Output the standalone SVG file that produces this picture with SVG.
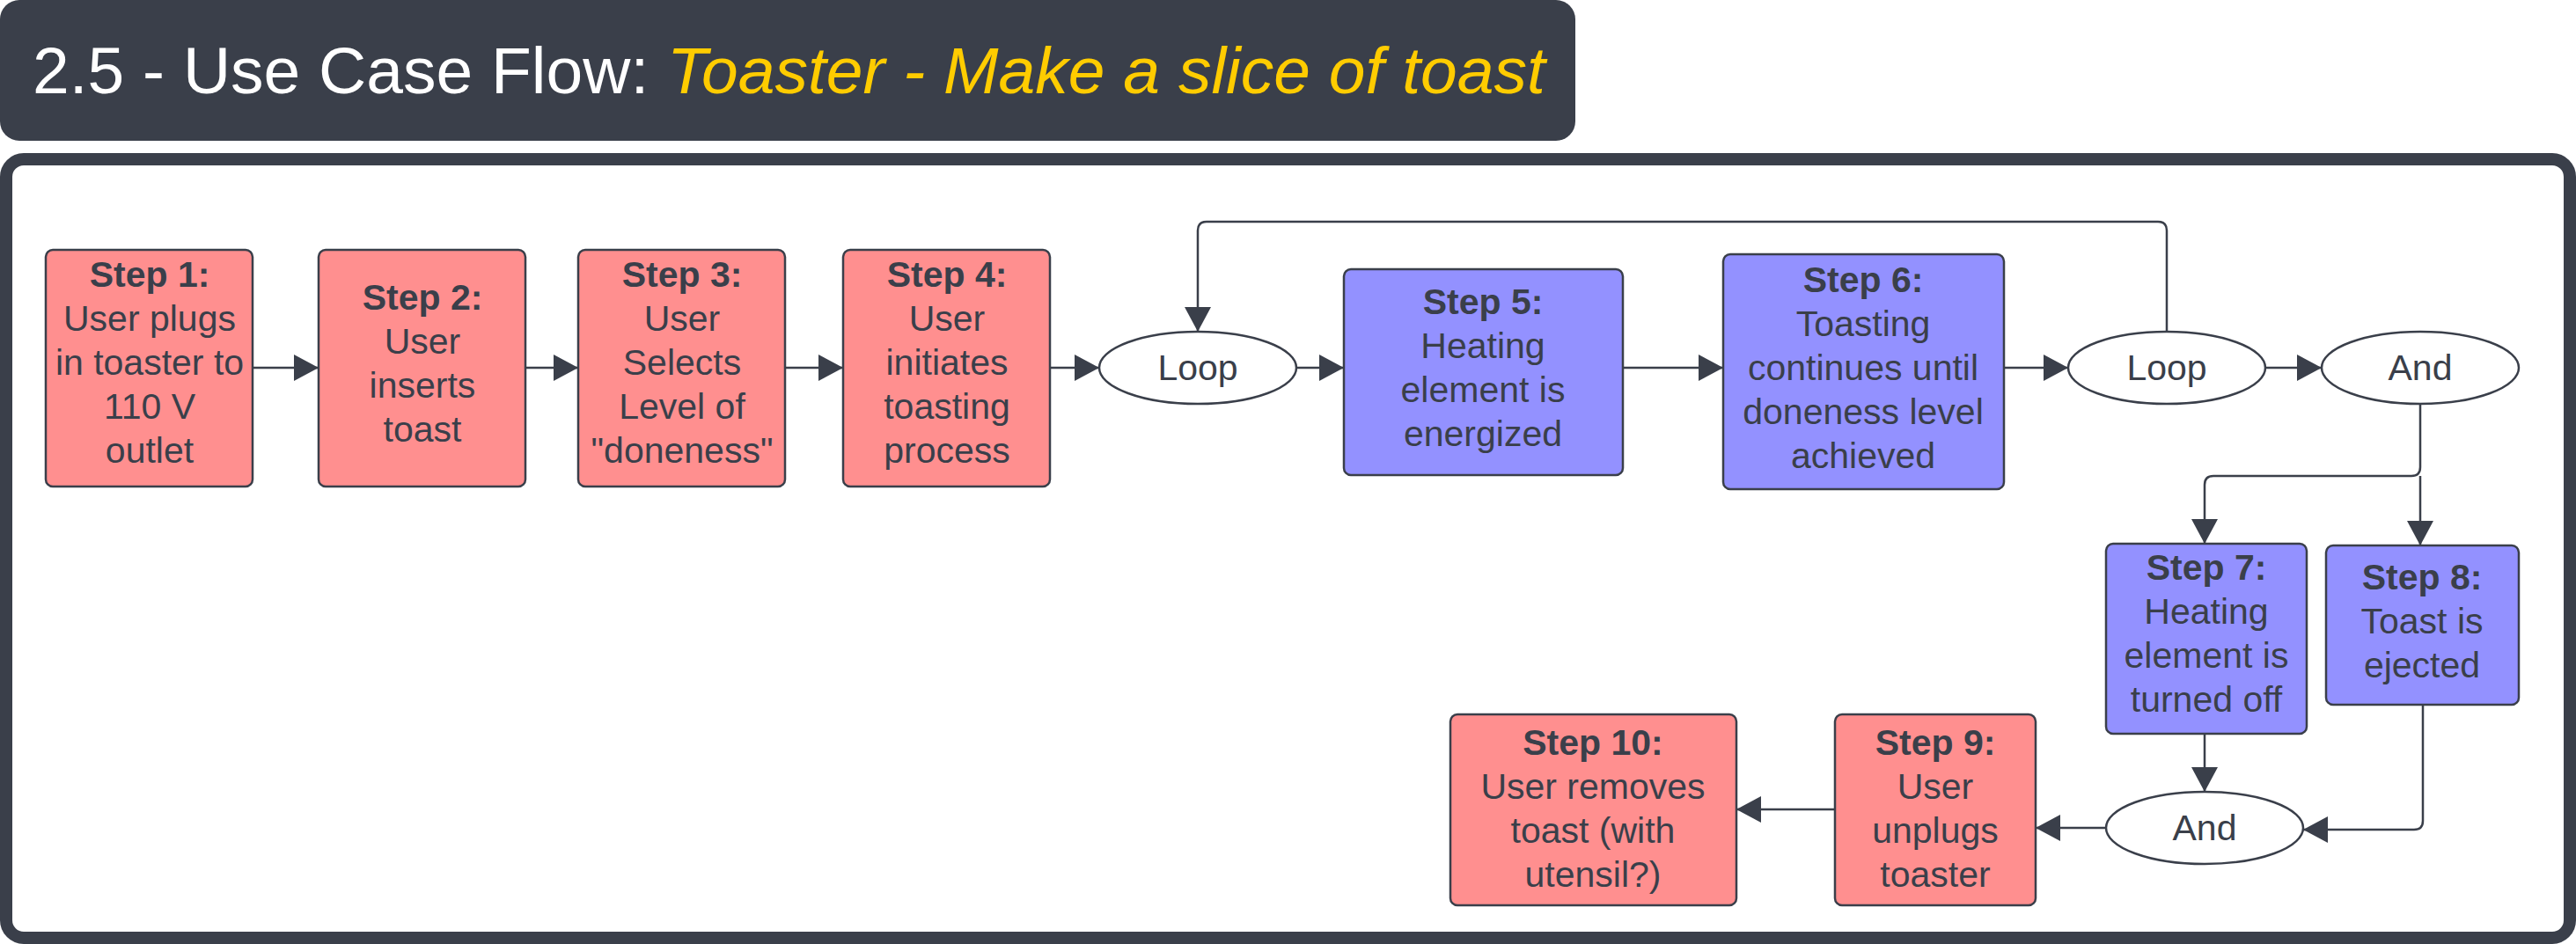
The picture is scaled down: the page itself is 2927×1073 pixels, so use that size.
<svg xmlns="http://www.w3.org/2000/svg" width="2927" height="1073" viewBox="0 0 2927 1073">
<defs>
<marker id="ah" markerUnits="userSpaceOnUse" markerWidth="30" markerHeight="30" refX="28" refY="15" orient="auto"><path d="M0,0 L28,15 L0,30 Z" fill="#3a3f4a"/></marker>
</defs>
<style>
.r{fill:#ff8f8f;stroke:#3a3f4a;stroke-width:2.5}
.b{fill:#9391ff;stroke:#3a3f4a;stroke-width:2.5}
.e{fill:#fff;stroke:#3a3f4a;stroke-width:2.5}
text{font-family:"Liberation Sans",Arial,sans-serif;font-size:41px;fill:#3a3f4a;text-anchor:middle}
.h{font-weight:bold}
.c path{fill:none;stroke:#3a3f4a;stroke-width:2.5;marker-end:url(#ah)}
</style>
<rect x="0" y="0" width="1790" height="160" rx="22" fill="#3a3f4a"/>
<text x="37" y="106" style="font-size:75px;fill:#fff;text-anchor:start">2.5 - Use Case Flow: <tspan style="fill:#ffcc00;font-style:italic">Toaster - Make a slice of toast</tspan></text>
<rect x="7" y="181" width="2913" height="885" rx="20" fill="#fff" stroke="#3a3f4a" stroke-width="14"/>
<g class="c">
<path d="M287,418 H362"/>
<path d="M597,418 H657"/>
<path d="M892,418 H958"/>
<path d="M1193,418 H1249"/>
<path d="M1473,418 H1527"/>
<path d="M1844,418 H1958"/>
<path d="M2277,418 H2350"/>
<path d="M2574,418 H2638"/>
<path d="M2462,377 V262 Q2462,252 2452,252 H1371 Q1361,252 1361,262 V377"/>
<path d="M2750,459 V531 Q2750,541 2740,541 H2515 Q2505,541 2505,551 V618"/>
<path d="M2750,541 V620"/>
<path d="M2505,834 V900"/>
<path d="M2753,801 V933 Q2753,943 2743,943 H2617"/>
<path d="M2393,941 H2313"/>
<path d="M2085,920 H1973"/>
</g>
<g id="step1"><rect class="r" x="52" y="284" width="235" height="269" rx="8"/><text x="170" y="326"><tspan class="h">Step 1:</tspan><tspan x="170" dy="50">User plugs</tspan><tspan x="170" dy="50">in toaster to</tspan><tspan x="170" dy="50">110 V</tspan><tspan x="170" dy="50">outlet</tspan></text></g>
<g id="step2"><rect class="r" x="362" y="284" width="235" height="269" rx="8"/><text x="480" y="352"><tspan class="h">Step 2:</tspan><tspan x="480" dy="50">User</tspan><tspan x="480" dy="50">inserts</tspan><tspan x="480" dy="50">toast</tspan></text></g>
<g id="step3"><rect class="r" x="657" y="284" width="235" height="269" rx="8"/><text x="775" y="326"><tspan class="h">Step 3:</tspan><tspan x="775" dy="50">User</tspan><tspan x="775" dy="50">Selects</tspan><tspan x="775" dy="50">Level of</tspan><tspan x="775" dy="50">"doneness"</tspan></text></g>
<g id="step4"><rect class="r" x="958" y="284" width="235" height="269" rx="8"/><text x="1076" y="326"><tspan class="h">Step 4:</tspan><tspan x="1076" dy="50">User</tspan><tspan x="1076" dy="50">initiates</tspan><tspan x="1076" dy="50">toasting</tspan><tspan x="1076" dy="50">process</tspan></text></g>
<g id="loop1"><ellipse class="e" cx="1361" cy="418" rx="112" ry="41"/><text x="1361" y="432">Loop</text></g>
<g id="step5"><rect class="b" x="1527" y="306" width="317" height="234" rx="8"/><text x="1685" y="357"><tspan class="h">Step 5:</tspan><tspan x="1685" dy="50">Heating</tspan><tspan x="1685" dy="50">element is</tspan><tspan x="1685" dy="50">energized</tspan></text></g>
<g id="step6"><rect class="b" x="1958" y="289" width="319" height="267" rx="8"/><text x="2117" y="332"><tspan class="h">Step 6:</tspan><tspan x="2117" dy="50">Toasting</tspan><tspan x="2117" dy="50">continues until</tspan><tspan x="2117" dy="50">doneness level</tspan><tspan x="2117" dy="50">achieved</tspan></text></g>
<g id="loop2"><ellipse class="e" cx="2462" cy="418" rx="112" ry="41"/><text x="2462" y="432">Loop</text></g>
<g id="and1"><ellipse class="e" cx="2750" cy="418" rx="112" ry="41"/><text x="2750" y="432">And</text></g>
<g id="step7"><rect class="b" x="2393" y="618" width="228" height="216" rx="8"/><text x="2507" y="659"><tspan class="h">Step 7:</tspan><tspan x="2507" dy="50">Heating</tspan><tspan x="2507" dy="50">element is</tspan><tspan x="2507" dy="50">turned off</tspan></text></g>
<g id="step8"><rect class="b" x="2643" y="620" width="219" height="181" rx="8"/><text x="2752" y="670"><tspan class="h">Step 8:</tspan><tspan x="2752" dy="50">Toast is</tspan><tspan x="2752" dy="50">ejected</tspan></text></g>
<g id="and2"><ellipse class="e" cx="2505" cy="941" rx="112" ry="41"/><text x="2505" y="955">And</text></g>
<g id="step9"><rect class="r" x="2085" y="812" width="228" height="217" rx="8"/><text x="2199" y="858"><tspan class="h">Step 9:</tspan><tspan x="2199" dy="50">User</tspan><tspan x="2199" dy="50">unplugs</tspan><tspan x="2199" dy="50">toaster</tspan></text></g>
<g id="step10"><rect class="r" x="1648" y="812" width="325" height="217" rx="8"/><text x="1810" y="858"><tspan class="h">Step 10:</tspan><tspan x="1810" dy="50">User removes</tspan><tspan x="1810" dy="50">toast (with</tspan><tspan x="1810" dy="50">utensil?)</tspan></text></g>
</svg>
